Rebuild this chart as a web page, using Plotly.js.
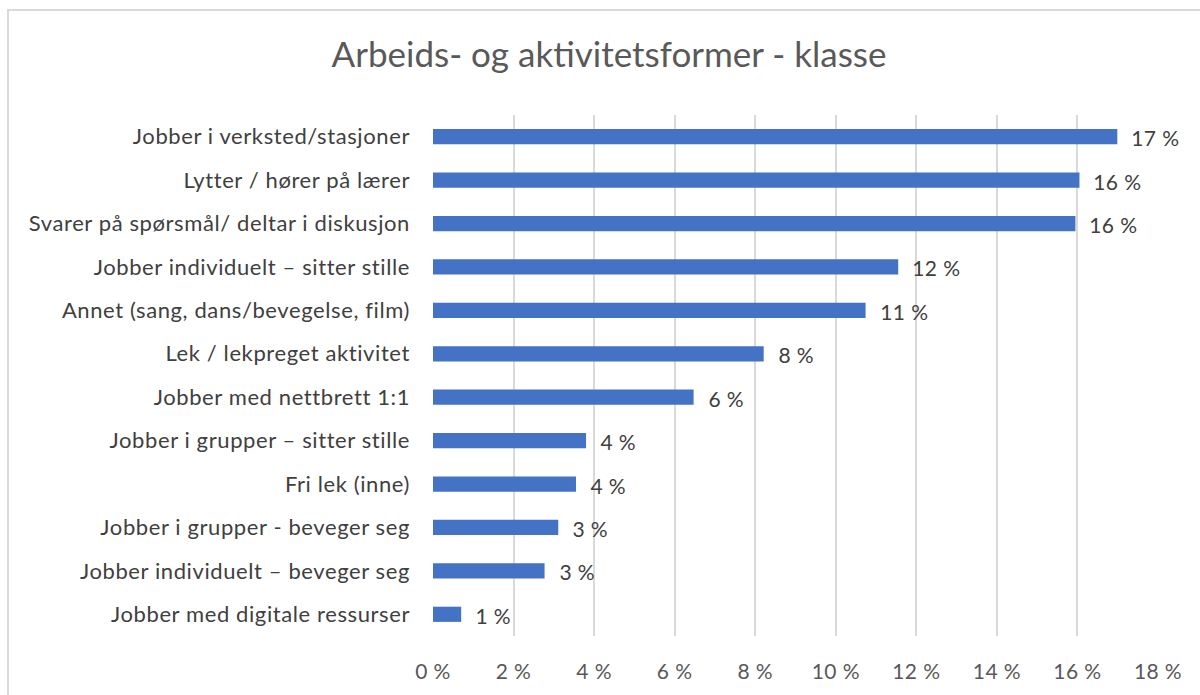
<!DOCTYPE html>
<html>
<head>
<meta charset="utf-8">
<script src="https://cdn.plot.ly/plotly-3.0.1.min.js"></script>
<style>
  html, body { margin: 0; padding: 0; background: #ffffff; }
  #wrap { position: relative; width: 1200px; height: 695px; overflow: hidden; }
  #chart { position: absolute; left: 0; top: 0; width: 1200px; height: 695px; }
  #frame { position: absolute; left: 7px; top: 9px; width: 1300px; height: 800px;
           border-left: 2px solid #D9D9D9; border-top: 2px solid #D9D9D9; pointer-events: none; }
  #chart .ytick text { letter-spacing: 0.6px; }
  #chart .xtick text { letter-spacing: 0.4px; }
  #chart .annotation-text { letter-spacing: 0.4px; }
</style>
</head>
<body>
<div id="wrap">
  <div id="chart"></div>
  <div id="frame"></div>
</div>
<script>
const categories = [
  "Jobber i verksted/stasjoner",
  "Lytter / hører på lærer",
  "Svarer på spørsmål/ deltar i diskusjon",
  "Jobber individuelt – sitter stille",
  "Annet (sang, dans/bevegelse, film)",
  "Lek / lekpreget aktivitet",
  "Jobber med nettbrett 1:1",
  "Jobber i grupper – sitter stille",
  "Fri lek (inne)",
  "Jobber i grupper - beveger seg",
  "Jobber individuelt – beveger seg",
  "Jobber med digitale ressurser"
];
const values = [16.99, 16.05, 15.95, 11.55, 10.74, 8.21, 6.47, 3.80, 3.55, 3.11, 2.77, 0.70];
const valueLabels = ["17 %", "16 %", "16 %", "12 %", "11 %", "8 %", "6 %", "4 %", "4 %", "3 %", "3 %", "1 %"];
const tickValues = [0, 2, 4, 6, 8, 10, 12, 14, 16, 18];
const tickLabels = ["0 %", "2 %", "4 %", "6 %", "8 %", "10 %", "12 %", "14 %", "16 %", "18 %"];
const chartTitle = "Arbeids- og aktivitetsformer - klasse";

const FONT = "Lato, 'Open Sans', sans-serif";

const trace = {
  type: "bar",
  orientation: "h",
  y: categories,
  x: values,
  marker: { color: "#4472C4", line: { color: "#4472C4", width: 0 } },
  hoverinfo: "x+y"
};

const annotations = categories.map((c, i) => ({
  x: values[i], y: c, xref: "x", yref: "y",
  text: valueLabels[i], showarrow: false,
  xanchor: "left", yanchor: "middle", xshift: 13, yshift: -1,
  font: { family: FONT, size: 21, color: "#404040" }
}));

const layout = {
  width: 1200, height: 695,
  paper_bgcolor: "rgba(0,0,0,0)", plot_bgcolor: "rgba(0,0,0,0)",
  margin: { l: 433, r: 42, t: 115, b: 59, pad: 0 },
  title: {
    text: chartTitle,
    font: { family: FONT, size: 35, color: "#595959" },
    x: 0.5075, xref: "container", xanchor: "center",
    y: 0.921, yref: "container", yanchor: "middle"
  },
  bargap: 0.65,
  showlegend: false,
  xaxis: {
    range: [0, 18],
    tickvals: tickValues,
    ticktext: tickLabels,
    showgrid: true, gridcolor: "#D9D9D9", gridwidth: 1.5,
    zeroline: false, showline: false, ticks: "",
    ticklabelstandoff: 21,
    tickfont: { family: FONT, size: 21, color: "#595959" },
    fixedrange: true
  },
  yaxis: {
    autorange: "reversed",
    showgrid: false, zeroline: false, showline: false, ticks: "",
    ticklabelstandoff: 22,
    tickfont: { family: FONT, size: 22, color: "#404040" },
    fixedrange: true
  },
  annotations: annotations
};

Plotly.newPlot("chart", [trace], layout, { displayModeBar: false, responsive: false });
</script>
</body>
</html>
